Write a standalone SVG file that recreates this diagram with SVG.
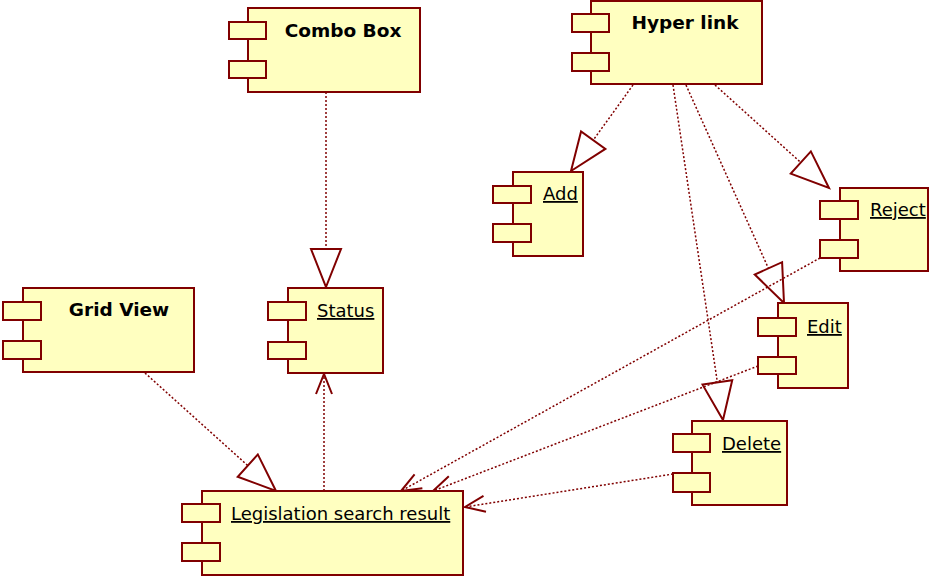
<svg xmlns="http://www.w3.org/2000/svg" width="929" height="576" viewBox="0 0 929 576">
<style>
.body{fill:#ffffc0;stroke:#800000;stroke-width:2}
.port{fill:#ffffc0;stroke:#800000;stroke-width:2}
.title{font-family:"DejaVu Sans",sans-serif;font-weight:bold;font-size:18.5px;fill:#000;text-anchor:middle}
.lbl{font-family:"DejaVu Sans",sans-serif;font-size:18px;fill:#000;text-decoration:underline}
.dep{fill:none;stroke:#800000;stroke-width:1.5;stroke-dasharray:2 2}
</style>
<defs>
<marker id="tri" markerUnits="userSpaceOnUse" orient="auto" refX="0" refY="0" markerWidth="50" markerHeight="50" overflow="visible">
<path d="M0,0 L-38,-15 L-38,15 Z" fill="#fff" stroke="#800000" stroke-width="2" stroke-linejoin="miter"/>
</marker>
<marker id="open" markerUnits="userSpaceOnUse" orient="auto" refX="0" refY="0" markerWidth="30" markerHeight="30" overflow="visible">
<path d="M-20,-8 L0,0 L-20,8" fill="none" stroke="#800000" stroke-width="2"/>
</marker>
</defs>
<g id="connectors">
<path class="dep" d="M326,92 L326,287" marker-end="url(#tri)"/>
<path class="dep" d="M633,85 L571,171" marker-end="url(#tri)"/>
<path class="dep" d="M715,85 L829,188" marker-end="url(#tri)"/>
<path class="dep" d="M686,85 L784,303" marker-end="url(#tri)"/>
<path class="dep" d="M673,85 L723,420" marker-end="url(#tri)"/>
<path class="dep" d="M145,373 L276,491" marker-end="url(#tri)"/>
<path class="dep" d="M324,491 L324,374" marker-end="url(#open)"/>
<path class="dep" d="M820,258 L401,491" marker-end="url(#open)"/>
<path class="dep" d="M758,366 L433,491" marker-end="url(#open)"/>
<path class="dep" d="M673,474 L465,507" marker-end="url(#open)"/>
</g>
<g id="combo-box">
<rect class="body" x="248" y="8" width="172" height="84"/>
<rect class="port" x="229" y="22" width="37" height="17"/>
<rect class="port" x="229" y="61" width="37" height="17"/>
<text class="title" x="343" y="37">Combo Box</text>
</g>
<g id="hyper-link">
<rect class="body" x="591" y="1" width="171" height="83"/>
<rect class="port" x="572" y="14" width="37" height="18"/>
<rect class="port" x="572" y="53" width="37" height="18"/>
<text class="title" x="685" y="29">Hyper link</text>
</g>
<g id="grid-view">
<rect class="body" x="23" y="288" width="171" height="84"/>
<rect class="port" x="3" y="302" width="38" height="18"/>
<rect class="port" x="3" y="341" width="38" height="18"/>
<text class="title" x="119" y="316">Grid View</text>
</g>
<g id="status">
<rect class="body" x="288" y="288" width="95" height="85"/>
<rect class="port" x="268" y="302" width="38" height="18"/>
<rect class="port" x="268" y="342" width="38" height="17"/>
<text class="lbl" x="317" y="317">Status</text>
</g>
<g id="add">
<rect class="body" x="513" y="172" width="70" height="84"/>
<rect class="port" x="493" y="186" width="38" height="17"/>
<rect class="port" x="493" y="224" width="38" height="18"/>
<text class="lbl" x="543" y="200">Add</text>
</g>
<g id="reject">
<rect class="body" x="840" y="188" width="88" height="83"/>
<rect class="port" x="820" y="201" width="38" height="18"/>
<rect class="port" x="820" y="240" width="38" height="18"/>
<text class="lbl" x="870" y="216">Reject</text>
</g>
<g id="edit">
<rect class="body" x="778" y="303" width="70" height="85"/>
<rect class="port" x="758" y="318" width="38" height="18"/>
<rect class="port" x="758" y="357" width="38" height="17"/>
<text class="lbl" x="807" y="333">Edit</text>
</g>
<g id="delete">
<rect class="body" x="692" y="421" width="95" height="84"/>
<rect class="port" x="673" y="434" width="37" height="18"/>
<rect class="port" x="673" y="473" width="37" height="19"/>
<text class="lbl" x="722" y="450">Delete</text>
</g>
<g id="legislation-search-result">
<rect class="body" x="202" y="491" width="261" height="84"/>
<rect class="port" x="182" y="504" width="38" height="18"/>
<rect class="port" x="182" y="543" width="38" height="18"/>
<text class="lbl" x="231" y="520">Legislation search result</text>
</g>
</svg>
